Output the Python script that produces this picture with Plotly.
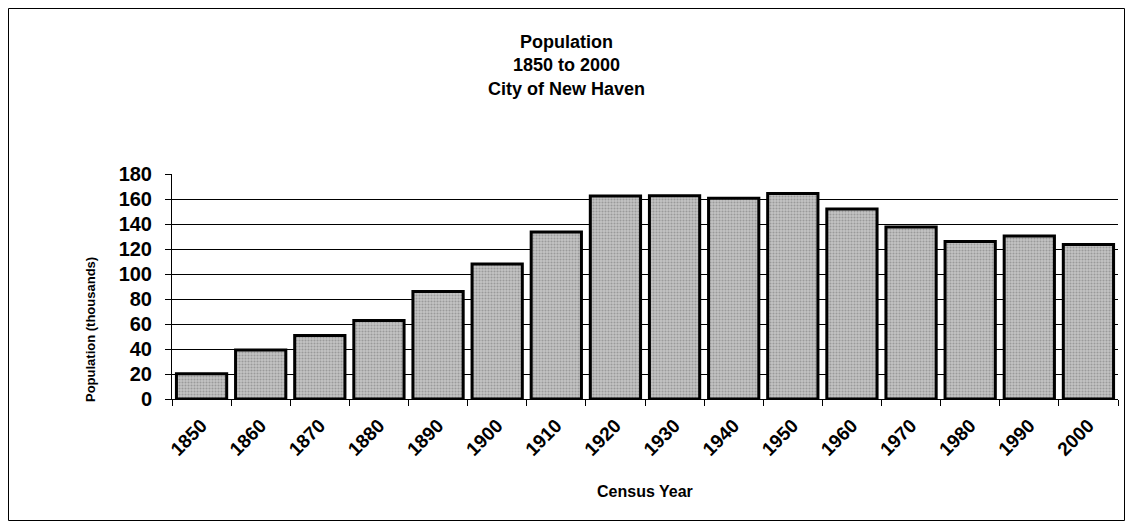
import plotly.graph_objects as go

years = ["1850", "1860", "1870", "1880", "1890", "1900", "1910", "1920",
         "1930", "1940", "1950", "1960", "1970", "1980", "1990", "2000"]
population_thousands = [20.3, 39.3, 50.8, 62.9, 86.0, 108.0, 133.6, 162.5,
                        162.7, 160.6, 164.4, 152.0, 137.7, 126.1, 130.5, 123.6]
y_ticks = [0, 20, 40, 60, 80, 100, 120, 140, 160, 180]
grid_ticks = [20, 40, 60, 80, 100, 120, 140, 160]

FONT = "Arial, Liberation Sans, sans-serif"
W, H = 1117, 513
L, R, T, B = 164, 7, 166, 122
PW, PH = W - L - R, H - T - B

fig = go.Figure()
fig.add_trace(go.Bar(
    x=years, y=population_thousands,
    marker=dict(color="#b8b8b8", line=dict(color="black", width=3),
                pattern=dict(shape=".", fgcolor="#707070", bgcolor="#c4c4c4",
                             size=3, solidity=0.4)),
    hoverinfo="x+y",
))
fig.add_trace(go.Scatter(x=years[:1], y=[0], yaxis="y2", mode="markers",
                         marker=dict(opacity=0), showlegend=False, hoverinfo="skip"))

fig.update_layout(
    width=W, height=H,
    margin=dict(l=L, r=R, t=T, b=B),
    paper_bgcolor="white", plot_bgcolor="white",
    showlegend=False,
    bargap=0.15,
    font=dict(family=FONT, color="black"),
    title=dict(text="<b>Population<br>1850 to 2000<br>City of New Haven</b>",
               x=0.5, xref="container", xanchor="center", y=1 - 40 / H, yanchor="top",
               font=dict(size=18, family=FONT, color="black")),
    xaxis=dict(
        type="category", range=[-0.5, len(years) - 0.5],
        tickangle=-45, tickson="boundaries",
        ticks="outside", ticklen=6, tickcolor="black", tickwidth=1,
        showline=True, linecolor="black", linewidth=1, showgrid=False,
        ticklabelstandoff=7,
        tickfont=dict(size=19, family=FONT, color="black", weight="bold"),
    ),
    yaxis=dict(
        range=[0, 180], tickvals=y_ticks,
        ticks="outside", ticklen=6, tickcolor="black", tickwidth=1,
        showline=True, linecolor="black", linewidth=1, showgrid=False, zeroline=False,
        ticklabelstandoff=9,
        tickfont=dict(size=20, family=FONT, color="black", weight="bold"),
    ),
    yaxis2=dict(
        range=[0, 180], overlaying="y", tickvals=grid_ticks, showticklabels=False,
        showgrid=True, gridcolor="black", gridwidth=1, zeroline=False, showline=False,
    ),
    annotations=[
        dict(text="<b>Census Year</b>", xref="paper", yref="paper",
             x=0.5, y=-(483 - (T + PH)) / PH,
             xanchor="center", yanchor="middle", showarrow=False,
             font=dict(size=16, family=FONT, color="black")),
        dict(text="<b>Population (thousands)</b>", xref="paper", yref="paper",
             x=(82 - L) / PW, y=((T + PH) - 322) / PH, textangle=-90,
             xanchor="center", yanchor="middle", showarrow=False,
             font=dict(size=13, family=FONT, color="black")),
    ],
    shapes=[dict(type="rect", xref="paper", yref="paper",
                 x0=(-L + 0.5) / PW, x1=1 + (R - 0.5) / PW,
                 y0=(-B + 0.5) / PH, y1=1 + (T - 0.5) / PH,
                 line=dict(color="black", width=1), fillcolor="rgba(0,0,0,0)", layer="below")],
)

fig.write_html("out.html")
